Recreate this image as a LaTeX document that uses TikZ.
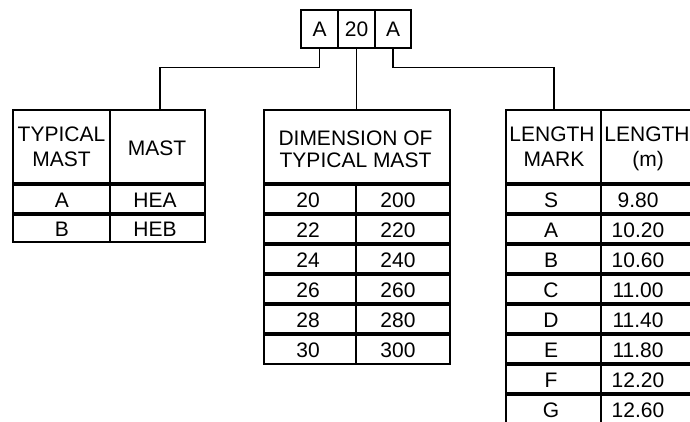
\documentclass[tikz,border=0pt]{standalone}
\usepackage{fontspec}
\setmainfont{Liberation Sans}
\begin{document}
\begin{tikzpicture}[x=1pt,y=-1pt,
  txt/.style={font=\fontsize{21}{25}\selectfont, inner sep=0pt, anchor=base},
  cell/.style={draw, line width=2.8pt, inner sep=0pt, font=\fontsize{21}{25}\selectfont},
  border/.style={line width=2.5pt},
  sep/.style={line width=3.2pt},
  conn/.style={line width=1.8pt}]
\path[use as bounding box, fill=white] (0,0) rectangle (690,421);
\clip (0,0) rectangle (690,421);

% top code box
\node[cell, minimum width=37pt, minimum height=38pt] (ta) at (319.5,29) {A};
\node[cell, minimum width=37pt, minimum height=38pt] (tb) at (356.5,29) {20};
\node[cell, minimum width=36pt, minimum height=38pt] (tc) at (393,29) {A};

% table tops
\coordinate (lt) at (160,110);
\coordinate (mt) at (356.5,110);
\coordinate (rt) at (554,110);

% connectors
\draw[conn] (ta.south) -- ++(0,18) -| (lt);
\draw[conn] (tb.south) -- (mt);
\draw[conn] (tc.south) -- ++(0,18) -| (rt);

% left table
\draw[border] (13,110) rectangle (205,242);
\draw[border] (110,110) -- (110,242);
\draw[sep] (13,184) -- (205,184);
\draw[sep] (13,214) -- (205,214);
\node[txt] (l1a) at (61.5,141) {TYPICAL};
\node[txt] (l1b) at (61.5,166.7) {MAST};
\node[txt] (l2) at (157,155.7) {MAST};
\node[txt] (la1) at (62,207.5) {A};
\node[txt] (la2) at (155,207.5) {HEA};
\node[txt] (lb1) at (62,236.5) {B};
\node[txt] (lb2) at (155,236.5) {HEB};

% middle table
\draw[border] (264,110) rectangle (450,364);
\draw[border] (356,184) -- (356,364);
\foreach \yy in {184,214,244,274,304,334}
  \draw[sep] (264,\yy) -- (450,\yy);
\node[txt] (m1) at (355.5,145.7) {DIMENSION OF};
\node[txt] (m2) at (355.5,167) {TYPICAL MAST};
\foreach \a/\b [count=\i from 0] in {20/200,22/220,24/240,26/260,28/280,30/300}{
  \node[txt] (ma\i) at (308,207.5+30*\i) {\a};
  \node[txt] (mb\i) at (398,207.5+30*\i) {\b};
}

% right table
\draw[border] (700,110) -- (506,110) -- (506,430);
\draw[border] (601,110) -- (601,430);
\foreach \yy in {184,214,244,274,304,334,364,394}
  \draw[sep] (506,\yy) -- (700,\yy);
\node[txt] (r1a) at (552,141.7) {LENGTH};
\node[txt] (r1b) at (554,166.7) {MARK};
\node[txt] (r2a) at (647,141.7) {LENGTH};
\node[txt] (r2b) at (648,166.7) {(m)};
\foreach \a/\b [count=\i from 0] in {S/9.80,A/10.20,B/10.60,C/11.00,D/11.40,E/11.80,F/12.20,G/12.60}{
  \node[txt] (ra\i) at (551,207.5+30*\i) {\a};
  \node[txt] (rb\i) at (638,207.5+30*\i) {\b};
}
\end{tikzpicture}
\end{document}
